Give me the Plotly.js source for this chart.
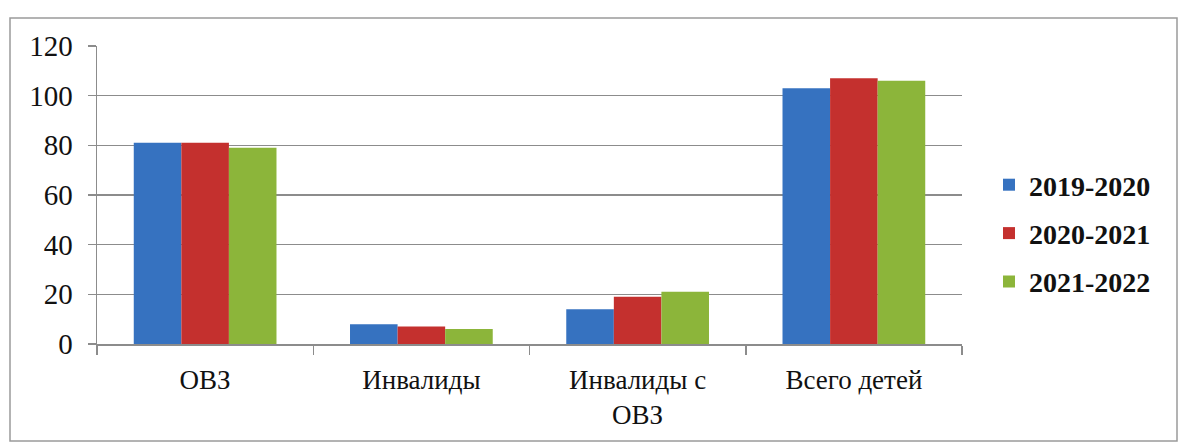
<!DOCTYPE html>
<html>
<head>
<meta charset="utf-8">
<script src="https://cdn.plot.ly/plotly-3.0.1.min.js"></script>
<style>
html,body{margin:0;padding:0;background:#fff;}
#chart{width:1180px;height:444px;}
</style>
</head>
<body>
<div id="chart"></div>
<script>
const categories = ["ОВЗ", "Инвалиды", "Инвалиды с<br>ОВЗ", "Всего детей"];
const seriesNames = ["2019-2020", "2020-2021", "2021-2022"];
const values2019 = [81, 8, 14, 103];
const values2020 = [81, 7, 19, 107];
const values2021 = [79, 6, 21, 106];
const yTicks = [0, 20, 40, 60, 80, 100, 120];

const colors = ["#3672C0", "#C4302E", "#8CB53A"];
const seriesValues = [values2019, values2020, values2021];
const FONT = "Liberation Serif, DejaVu Serif, serif";

const traces = seriesValues.map((vals, i) => ({
  type: "bar",
  name: seriesNames[i],
  x: categories,
  y: vals,
  legendgroup: "g" + i,
  marker: {color: colors[i], line: {width: 0}},
  hoverinfo: "x+y+name"
}));

const L = 97, R = 218, T = 46, B = 100;
const pw = 1180 - L - R, ph = 444 - T - B;
const px = v => (v - L) / pw;
const py = v => 1 - (v - T) / ph;

const layout = {
  width: 1180, height: 444,
  margin: {l: L, r: R, t: T, b: B, pad: 0},
  paper_bgcolor: "#fff", plot_bgcolor: "#fff",
  barmode: "group",
  bargap: 0.34, bargroupgap: 0,
  font: {family: FONT, size: 27, color: "#111"},
  xaxis: {
    type: "category",
    showgrid: false,
    showline: true, linecolor: "#8c8c8c", linewidth: 1.5,
    ticks: "outside", tickson: "boundaries", ticklen: 9, tickcolor: "#8c8c8c", tickwidth: 1.5,
    ticklabelstandoff: 11,
    tickfont: {size: 27, family: FONT, color: "#111"},
    fixedrange: true
  },
  yaxis: {
    range: [0, 120],
    tickvals: yTicks,
    ticktext: yTicks.map(String),
    showgrid: true, gridcolor: "#8c8c8c", gridwidth: 1.2,
    showline: true, linecolor: "#8c8c8c", linewidth: 1.5,
    ticks: "outside", ticklen: 8, tickcolor: "#8c8c8c", tickwidth: 1.2,
    zeroline: false,
    ticklabelstandoff: 9,
    tickfont: {size: 29, family: FONT, color: "#111"},
    fixedrange: true
  },
  legend: {
    x: px(989), y: py(160), xanchor: "left", yanchor: "top",
    traceorder: "grouped", tracegroupgap: 9,
    font: {size: 28, family: FONT, color: "#111", weight: "bold"},
    itemwidth: 30, bgcolor: "rgba(0,0,0,0)"
  },
  shapes: [{
    type: "rect", xref: "paper", yref: "paper",
    x0: px(10), x1: px(1177), y0: py(441), y1: py(18),
    line: {color: "#9a9a9a", width: 1.5}, fillcolor: "rgba(0,0,0,0)", layer: "below"
  }],
  showlegend: true
};

Plotly.newPlot("chart", traces, layout, {displayModeBar: false, staticPlot: true});
</script>
</body>
</html>
